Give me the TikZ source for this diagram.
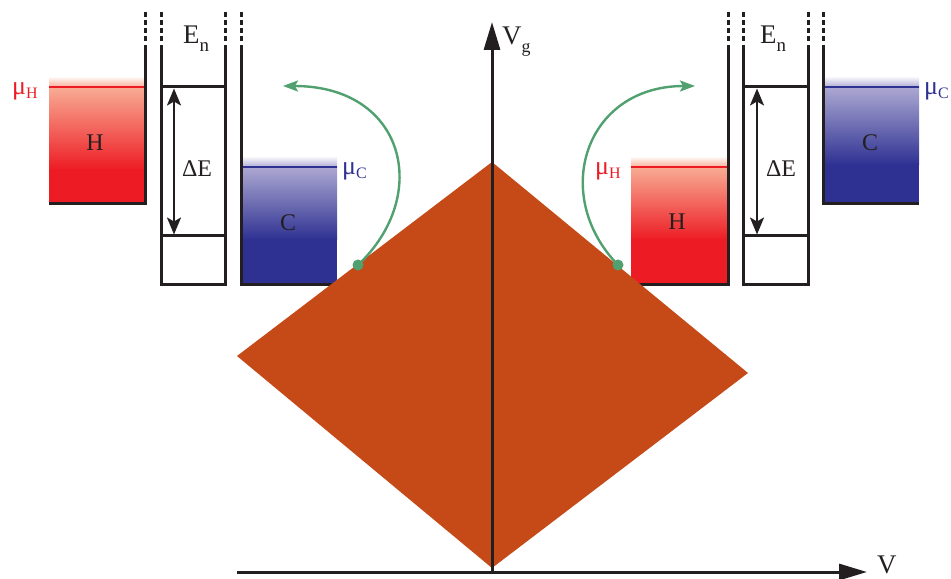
\documentclass[tikz,border=0pt]{standalone}
\usepackage{fontspec}
\setmainfont{Liberation Serif}
\usetikzlibrary{arrows.meta}
\definecolor{ink}{RGB}{35,31,32}
\definecolor{hred}{RGB}{237,28,36}
\definecolor{hlight}{RGB}{248,172,148}
\definecolor{cblue}{RGB}{46,49,146}
\definecolor{clight}{RGB}{172,168,210}
\definecolor{rust}{RGB}{197,74,24}
\definecolor{pathgreen}{RGB}{80,160,112}
\newcommand{\lowsub}[3]{\raisebox{-#1}{\fontsize{#2}{#2}\selectfont #3}}
\begin{document}
\begin{tikzpicture}[x=1bp,y=-1bp,
  wall/.style={ink, line width=3bp},
  dwall/.style={ink, line width=3bp, dash pattern=on 5bp off 3bp},
  redline/.style={hred, line width=2.4bp},
  blueline/.style={cblue, line width=2.4bp},
  gap/.style={ink, line width=2.4bp, {Stealth[length=17bp,width=14bp,inset=4bp]}-{Stealth[length=17bp,width=14bp,inset=4bp]}},
  axis/.style={ink, line width=3bp, -{Triangle[length=28bp,width=16bp]}},
  flow/.style={pathgreen, line width=2.4bp, -{Stealth[length=15bp,width=11bp,inset=3bp]}},
  lbl/.style={inner sep=0, anchor=base, text=ink, font=\fontsize{24}{24}\selectfont},
  biglbl/.style={inner sep=0, anchor=base west, text=ink, font=\fontsize{27}{27}\selectfont},
  mulbl/.style={inner sep=0, anchor=base west, font=\fontsize{26}{26}\selectfont},
]
\useasboundingbox (0,0) rectangle (951,579);

% ---------- left panel reservoirs ----------
\shade[top color=white, bottom color=hlight] (49,76) rectangle (145,87.5);
\shade[top color=hlight, bottom color=hred] (49,87) rectangle (145,170);
\fill[hred] (49,169.5) rectangle (145,204);
\shade[top color=white, bottom color=clight] (241,156) rectangle (337,167.5);
\shade[top color=clight, bottom color=cblue] (241,167) rectangle (337,240);
\fill[cblue] (241,239.5) rectangle (337,284);
\draw[redline] (49,87) -- (145,87);
\draw[blueline] (241,167) -- (337,167);

% ---------- right panel reservoirs ----------
\shade[top color=white, bottom color=hlight] (631,156) rectangle (728,167.5);
\shade[top color=hlight, bottom color=hred] (631,167) rectangle (728,240);
\fill[hred] (631,239.5) rectangle (728,284);
\shade[top color=white, bottom color=clight] (823,76) rectangle (919,87.5);
\shade[top color=clight, bottom color=cblue] (823,87) rectangle (919,165);
\fill[cblue] (823,164.5) rectangle (919,204);
\draw[redline] (631,167) -- (728,167);
\draw[blueline] (823,87) -- (919,87);

% ---------- left panel walls ----------
\draw[dwall] (145,12) -- (145,41);
\draw[wall] (145,45) -- (145,204) -- (49,204);
\draw[dwall] (161,12) -- (161,41);
\draw[dwall] (225,12) -- (225,41);
\draw[wall] (161,45) -- (161,284) -- (225,284) -- (225,45);
\draw[wall] (161,87) -- (225,87);
\draw[wall] (161,236) -- (225,236);
\coordinate (gapLtop) at (174,88.5);
\coordinate (gapLbot) at (174,234.5);
\draw[gap] (gapLtop) -- (gapLbot);
\draw[dwall] (241,12) -- (241,41);
\draw[wall] (241,45) -- (241,284) -- (337,284);

% ---------- right panel walls ----------
\draw[dwall] (728,12) -- (728,41);
\draw[wall] (728,45) -- (728,284) -- (631,284);
\draw[dwall] (743,12) -- (743,41);
\draw[dwall] (808,12) -- (808,41);
\draw[wall] (743,45) -- (743,284) -- (808,284) -- (808,45);
\draw[wall] (743,87) -- (808,87);
\draw[wall] (743,236) -- (808,236);
\coordinate (gapRtop) at (757,88.5);
\coordinate (gapRbot) at (757,234.5);
\draw[gap] (gapRtop) -- (gapRbot);
\draw[dwall] (823,12) -- (823,41);
\draw[wall] (823,45) -- (823,204) -- (919,204);

% ---------- diamond ----------
\coordinate (dTop) at (492,162);
\coordinate (dRight) at (748,373);
\coordinate (dBot) at (492,568);
\coordinate (dLeft) at (237,356);
\fill[rust] (dTop) -- (dRight) -- (dBot) -- (dLeft) -- cycle;

% ---------- axes ----------
\coordinate (origin) at (492,572);
\coordinate (vgTip) at (492,22);
\coordinate (vStart) at (237,572);
\coordinate (vTip) at (867,572);
\draw[axis] (origin) -- (vgTip);
\draw[axis] (vStart) -- (vTip);

% ---------- green transitions ----------
\coordinate (dotL) at (358,265);
\coordinate (endL) at (283,86);
\coordinate (dotR) at (618,265);
\coordinate (endR) at (695,86);
\draw[flow] (dotL) .. controls (432,195) and (405,86) .. (endL);
\draw[flow] (dotR) .. controls (550,195) and (585,86) .. (endR);
\fill[pathgreen] (dotL) circle (5.5bp);
\fill[pathgreen] (dotR) circle (5.5bp);

% ---------- labels ----------
\node[mulbl, text=hred] (muHL) at (12,95) {μ\lowsub{4bp}{16}{H}};
\node[biglbl] (EnL) at (183,44) {E\lowsub{8bp}{19}{n}};
\node[lbl] (dEL) at (197,177) {ΔE};
\node[lbl] (HL) at (95,151) {H};
\node[lbl] (CL) at (288,231) {C};
\node[mulbl, text=cblue] (muCL) at (342,175) {μ\lowsub{4bp}{16}{C}};

\node[mulbl, text=hred] (muHR) at (595,175) {μ\lowsub{4bp}{16}{H}};
\node[lbl] (HR) at (677,230) {H};
\node[lbl] (dER) at (781,177) {ΔE};
\node[biglbl] (EnR) at (760,44) {E\lowsub{8bp}{19}{n}};
\node[lbl] (CR) at (870,151) {C};
\node[mulbl, text=cblue] (muCR) at (924,95) {μ\lowsub{4bp}{16}{C}};

\node[biglbl] (Vg) at (502,45) {V\lowsub{8bp}{18}{g}};
\node[biglbl] (Vlab) at (877,573) {V};
\end{tikzpicture}
\end{document}
